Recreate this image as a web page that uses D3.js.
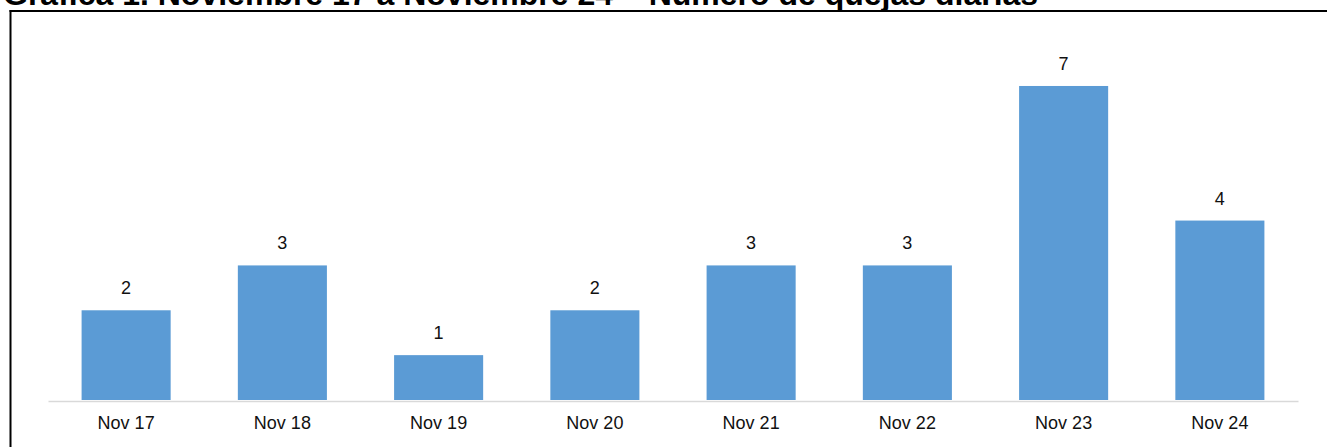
<!DOCTYPE html>
<html>
<head>
<meta charset="utf-8">
<script src="https://cdn.jsdelivr.net/npm/d3@7"></script>
<style>
  body { margin: 0; background: #fff; }
  svg { display: block; font-family: Arial, 'Liberation Sans', sans-serif; }
</style>
</head>
<body>
<script>
const w = 1327;
const h = 447;

const titleText = 'Gráfica 1. Noviembre 17 a Noviembre 24 – Número de quejas diarias';
const days = ['Nov 17', 'Nov 18', 'Nov 19', 'Nov 20', 'Nov 21', 'Nov 22', 'Nov 23', 'Nov 24'];
const quejas = [2, 3, 1, 2, 3, 3, 7, 4];

const svg = d3.select('body').append('svg')
  .attr('width', w)
  .attr('height', h);

// title, cut off by the top of the page like in the original
svg.append('text')
  .attr('x', 3)
  .attr('y', 5)
  .attr('font-size', '32px')
  .attr('font-weight', 'bold')
  .attr('fill', '#000')
  .text(titleText);

// frame (only top and left edges show)
svg.append('line')
  .attr('x1', 9.5).attr('x2', w)
  .attr('y1', 11).attr('y2', 11)
  .attr('stroke', '#000').attr('stroke-width', 2);
svg.append('line')
  .attr('x1', 10.5).attr('x2', 10.5)
  .attr('y1', 10).attr('y2', h)
  .attr('stroke', '#000').attr('stroke-width', 2);

const x = d3.scaleBand()
  .domain(days)
  .range([48, 1298])
  .paddingInner(0.43)
  .paddingOuter(0.215);

const y = d3.scaleLinear()
  .domain([0, 8])
  .range([400, 400 - 8 * 44.86]);

svg.append('g')
  .selectAll('rect')
  .data(quejas)
  .enter()
  .append('rect')
  .attr('x', (d, i) => x(days[i]))
  .attr('y', (d) => y(d))
  .attr('width', x.bandwidth())
  .attr('height', (d) => y(0) - y(d))
  .attr('fill', '#5b9bd5');

svg.append('g')
  .selectAll('text')
  .data(quejas)
  .enter()
  .append('text')
  .attr('x', (d, i) => x(days[i]) + x.bandwidth() / 2)
  .attr('y', (d) => y(d) - 16)
  .attr('text-anchor', 'middle')
  .attr('font-size', '18px')
  .attr('fill', '#111')
  .text((d) => d);

const xAxis = svg.append('g')
  .attr('transform', 'translate(0,401)')
  .call(d3.axisBottom(x).tickSize(0).tickSizeOuter(0));

xAxis.select('.domain')
  .attr('stroke', '#d9d9d9')
  .attr('stroke-width', 1.6);

xAxis.selectAll('text')
  .attr('y', 28)
  .attr('dy', 0)
  .attr('font-size', '18px')
  .attr('font-family', "Arial, 'Liberation Sans', sans-serif")
  .attr('fill', '#111');
</script>
</body>
</html>
